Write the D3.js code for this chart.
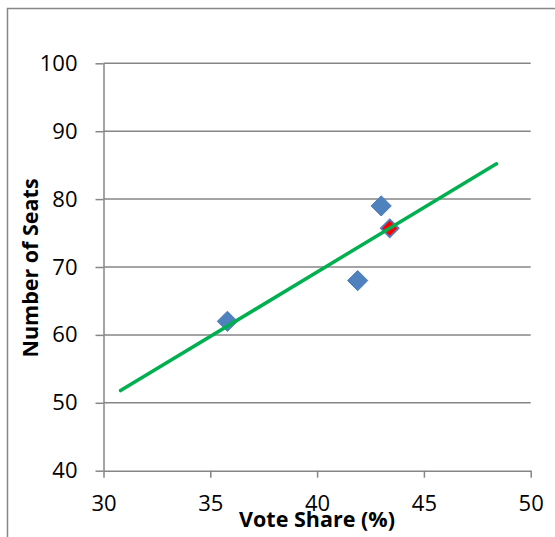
<!DOCTYPE html>
<html><head><meta charset="utf-8">
<script src="https://cdn.jsdelivr.net/npm/d3@7"></script>
<style>body{margin:0;background:#fff}svg{display:block}</style>
</head><body>
<svg id="c" width="555" height="537"></svg>
<script>
const xTicks = [30, 35, 40, 45, 50];
const yTicks = [40, 50, 60, 70, 80, 90, 100];
const voteShare = [35.8, 41.9, 43.0];
const seats = [62, 68, 79];
const predictedShare = [43.4];
const predictedSeats = [75.7];
const trendShare = [30.8, 48.4];
const trendSeats = [51.8, 85.2];
const xTitle = "Vote Share (%)";
const yTitle = "Number of Seats";

const svg = d3.select("#c");
const font = "'Open Sans', 'Liberation Sans', sans-serif";
const grey = "#868686";

svg.append("rect").attr("x", 7.5).attr("y", 8.5).attr("width", 700).attr("height", 700)
  .attr("fill", "none").attr("stroke", grey).attr("stroke-width", 1.5);

const x = d3.scaleLinear().domain([30, 50]).range([103.5, 530.7]);
const y = d3.scaleLinear().domain([40, 100]).range([470.7, 63.3]);

// gridlines
svg.append("g").selectAll("line").data(yTicks.filter(d => d !== 40)).join("line")
  .attr("x1", x(30)).attr("x2", x(50)).attr("y1", d => y(d)).attr("y2", d => y(d))
  .attr("stroke", grey).attr("stroke-width", 1.5);

// x axis
const xa = svg.append("g").attr("transform", `translate(0,${y(40)})`)
  .call(d3.axisBottom(x).tickValues(xTicks).tickSize(7).tickPadding(18).tickSizeOuter(0));
// y axis
const ya = svg.append("g").attr("transform", `translate(${x(30)},0)`)
  .call(d3.axisLeft(y).tickValues(yTicks).tickSize(8).tickPadding(18).tickSizeOuter(0));
[xa, ya].forEach(a => {
  a.select(".domain").attr("stroke", grey).attr("stroke-width", 1.5);
  a.selectAll(".tick line").attr("stroke", grey).attr("stroke-width", 1.5);
  a.selectAll("text").attr("font-family", font).attr("font-size", 22).attr("fill", "#000");
});
ya.selectAll(".tick line").attr("x1", 0);

// points
const diamond = d3.symbol().type(d3.symbolDiamond2).size(260);
svg.append("g").selectAll("path").data(voteShare.map((v, i) => [v, seats[i]])).join("path")
  .attr("d", diamond).attr("transform", d => `translate(${x(d[0])},${y(d[1])})`)
  .attr("fill", "#4f81bd").attr("stroke", "#4a7ebb").attr("stroke-width", 1);
svg.append("g").selectAll("path").data(predictedShare.map((v, i) => [v, predictedSeats[i]])).join("path")
  .attr("d", d3.symbol().type(d3.symbolDiamond2).size(200)).attr("transform", d => `translate(${x(d[0])},${y(d[1])})`)
  .attr("fill", "#ff0000").attr("stroke", "#4f81bd").attr("stroke-width", 1.8);

// trendline
svg.append("path").datum(trendShare.map((v, i) => [v, trendSeats[i]]))
  .attr("d", d3.line().x(d => x(d[0])).y(d => y(d[1])))
  .attr("stroke", "#00b050").attr("stroke-width", 3.5).attr("fill", "none").attr("stroke-linecap", "round");

// titles
svg.append("text").attr("x", 317).attr("y", 527).attr("text-anchor", "middle")
  .attr("font-family", font).attr("font-weight", "bold").attr("font-size", 21.5).text(xTitle);
svg.append("text").attr("transform", "translate(38,268) rotate(-90)").attr("text-anchor", "middle")
  .attr("font-family", font).attr("font-weight", "bold").attr("font-size", 21.5).text(yTitle);
</script>
</body></html>
